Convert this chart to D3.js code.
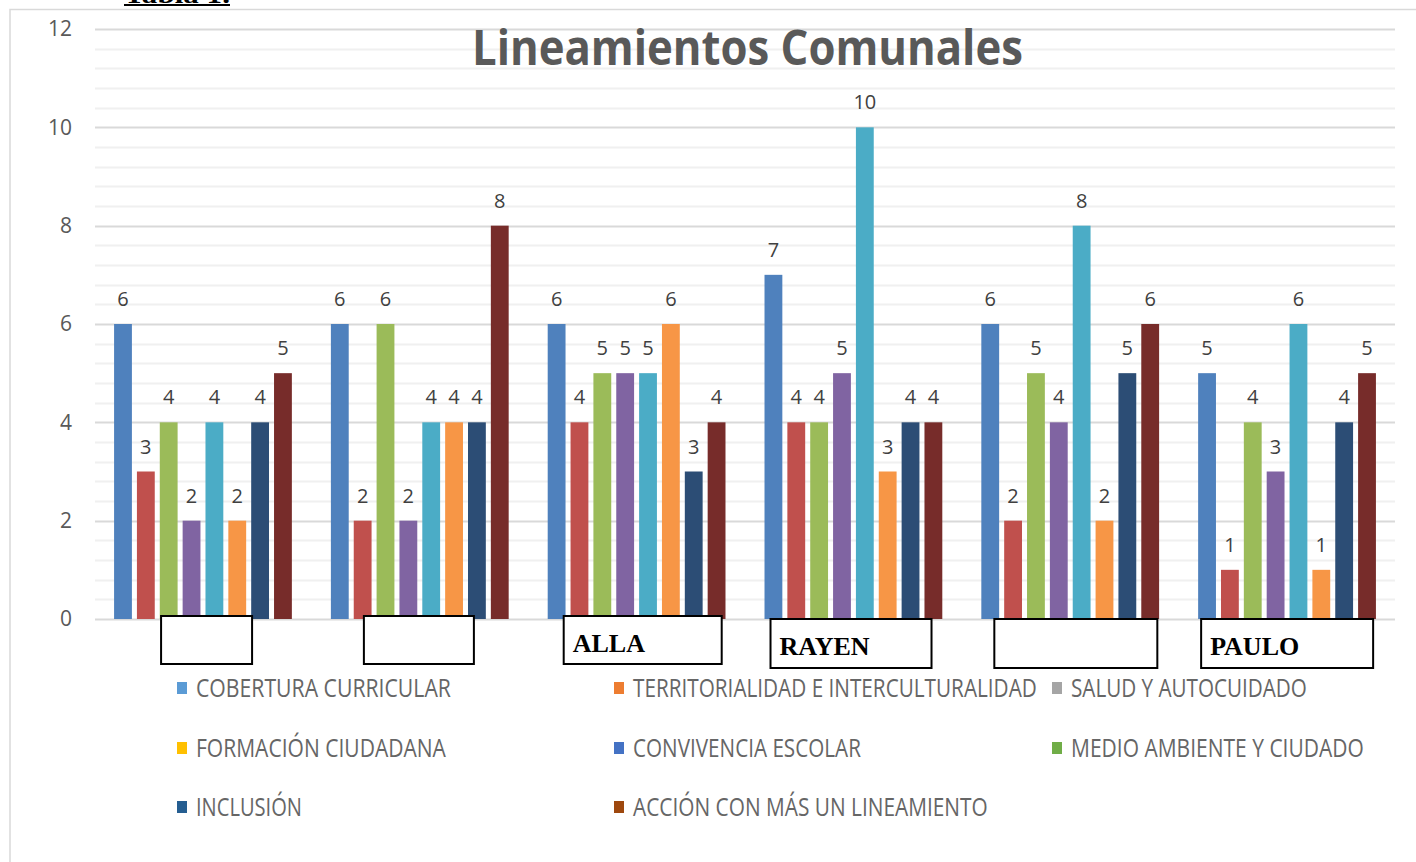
<!DOCTYPE html>
<html>
<head>
<meta charset="utf-8">
<script src="https://cdn.jsdelivr.net/npm/d3@7"></script>
<style>
  body { margin: 0; background: #fff; }
  svg { display: block; }
</style>
</head>
<body>
<div id="viz"></div>
<script>
// datos
var categories = ["c1", "c2", "ALLA", "RAYEN", "c5", "PAULO"];
var catLabels = ["", "", "ALLA", "RAYEN", "", "PAULO"];
var series = ["s1", "s2", "s3", "s4", "s5", "s6", "s7", "s8"];
var values = [
  [6, 3, 4, 2, 4, 2, 4, 5],
  [6, 2, 6, 2, 4, 4, 4, 8],
  [6, 4, 5, 5, 5, 6, 3, 4],
  [7, 4, 4, 5, 10, 3, 4, 4],
  [6, 2, 5, 4, 8, 2, 5, 6],
  [5, 1, 4, 3, 6, 1, 4, 5]
];
var barColors = ["#4F81BD", "#C0504D", "#9BBB59", "#8064A2", "#4BACC6", "#F79646", "#2C4D75", "#772C2A"];
var yTicks = [0, 2, 4, 6, 8, 10, 12];

var legendLabels = [
  "COBERTURA  CURRICULAR", "TERRITORIALIDAD E INTERCULTURALIDAD", "SALUD Y AUTOCUIDADO",
  "FORMACIÓN CIUDADANA", "CONVIVENCIA ESCOLAR", "MEDIO AMBIENTE Y CIUDADO",
  "INCLUSIÓN", "ACCIÓN CON MÁS UN LINEAMIENTO"
];
var legendColors = ["#5B9BD5", "#ED7D31", "#A5A5A5", "#FFC000", "#4472C4", "#70AD47", "#255E91", "#9E480E"];

// cajas de texto pegadas encima (layout)
var boxLayout = [
  {dx: 47, dy: -3, w: 91, h: 48},
  {dx: 33, dy: -3, w: 110, h: 48},
  {dx: 16, dy: -3, w: 158, h: 48},
  {dx: 6, dy: 0, w: 161, h: 49},
  {dx: 13, dy: 0, w: 163, h: 49},
  {dx: 3, dy: 0, w: 172, h: 49}
];
var legendPos = [
  {x: 177, y: 688, w: 255}, {x: 614, y: 688, w: 404}, {x: 1052, y: 688, w: 236},
  {x: 177, y: 748, w: 250}, {x: 614, y: 748, w: 228}, {x: 1052, y: 748, w: 293},
  {x: 177, y: 807, w: 106}, {x: 614, y: 807, w: 355}
];

var W = 1416, H = 862;
var svg = d3.select("#viz").append("svg")
  .attr("width", W).attr("height", H);

// ajusta el ancho de un texto escalandolo en x
function fitWidth(sel, target) {
  sel.each(function (d, i) {
    var t = d3.select(this);
    var w = typeof target === "function" ? target(d, i) : target;
    var nat = this.getComputedTextLength();
    var x = +t.attr("x"), yy = +t.attr("y");
    t.attr("transform", "translate(" + x + "," + yy + ") scale(" + (w / nat) + ",1)")
      .attr("x", 0).attr("y", 0);
  });
}

// marco
svg.append("path")
  .attr("d", "M10," + H + "V9.5H" + W)
  .attr("fill", "none")
  .attr("stroke", "#d9d9d9")
  .attr("stroke-width", 1.5);

// "Tabla 1." cortado arriba
svg.append("text")
  .attr("x", 124).attr("y", 3)
  .attr("font-family", "Liberation Serif")
  .attr("font-weight", "bold")
  .attr("font-size", 26)
  .text("Tabla 1.")
  .call(fitWidth, 106);
svg.append("line")
  .attr("x1", 124).attr("x2", 230).attr("y1", 5).attr("y2", 5)
  .attr("stroke", "#000").attr("stroke-width", 2);

var y = d3.scaleLinear().domain([0, 12]).range([619, 29]);
var x0 = d3.scaleBand().domain(categories).range([95, 1395])
  .paddingInner(0.18).paddingOuter(0.088);
var x1 = d3.scaleBand().domain(series).range([0, x0.bandwidth()])
  .paddingInner(0.22);

// grilla menor
svg.append("g").selectAll("line")
  .data(d3.range(0, 12.01, 0.4).filter(function (d) { return Math.abs(d / 2 - Math.round(d / 2)) > 0.01; }))
  .enter().append("line")
  .attr("x1", 95).attr("x2", 1395)
  .attr("y1", function (d) { return Math.round(y(d)) + 0.5; })
  .attr("y2", function (d) { return Math.round(y(d)) + 0.5; })
  .attr("stroke", "#f0f0f0").attr("stroke-width", 2);

// grilla mayor
svg.append("g").selectAll("line")
  .data(yTicks)
  .enter().append("line")
  .attr("x1", 95).attr("x2", 1395)
  .attr("y1", function (d) { return Math.round(y(d)) + 0.5; })
  .attr("y2", function (d) { return Math.round(y(d)) + 0.5; })
  .attr("stroke", "#d9d9d9").attr("stroke-width", 2);

// eje y
var yAxis = svg.append("g")
  .attr("transform", "translate(80,0)")
  .call(d3.axisLeft(y).tickValues(yTicks).tickSize(0).tickPadding(8));
yAxis.select(".domain").remove();
yAxis.selectAll("text")
  .attr("font-family", "Open Sans")
  .attr("font-size", 21)
  .attr("fill", "#595959");

// titulo
svg.append("text")
  .attr("x", 472).attr("y", 65)
  .attr("font-family", "Open Sans")
  .attr("font-weight", "bold")
  .attr("font-size", 49)
  .attr("fill", "#595959")
  .text("Lineamientos Comunales")
  .call(fitWidth, 551);

// barras
var groups = svg.append("g").selectAll("g")
  .data(values)
  .enter().append("g")
  .attr("transform", function (d, i) { return "translate(" + x0(categories[i]) + ",0)"; });

groups.selectAll("rect")
  .data(function (d) { return d; })
  .enter().append("rect")
  .attr("x", function (d, j) { return x1(series[j]); })
  .attr("y", function (d) { return y(d); })
  .attr("width", x1.bandwidth())
  .attr("height", function (d) { return y(0) - y(d); })
  .attr("fill", function (d, j) { return barColors[j]; });

groups.selectAll("text")
  .data(function (d) { return d; })
  .enter().append("text")
  .attr("x", function (d, j) { return x1(series[j]) + x1.bandwidth() / 2; })
  .attr("y", function (d) { return y(d) - 18; })
  .attr("text-anchor", "middle")
  .attr("font-family", "Open Sans")
  .attr("font-size", 20)
  .attr("fill", "#404040")
  .text(function (d) { return d; });

// cajas con nombres
var boxes = svg.append("g").selectAll("g")
  .data(categories)
  .enter().append("g")
  .attr("transform", function (d, i) {
    return "translate(" + (x0(d) + boxLayout[i].dx) + "," + (y(0) + boxLayout[i].dy) + ")";
  });
boxes.append("rect")
  .attr("width", function (d, i) { return boxLayout[i].w; })
  .attr("height", function (d, i) { return boxLayout[i].h; })
  .attr("fill", "#fff")
  .attr("stroke", "#000")
  .attr("stroke-width", 2);
boxes.append("text")
  .attr("x", 9).attr("y", 36)
  .attr("font-family", "Liberation Serif")
  .attr("font-weight", "bold")
  .attr("font-size", 26)
  .attr("fill", "#000")
  .text(function (d, i) { return catLabels[i]; });

// leyenda
var leg = svg.append("g").selectAll("g")
  .data(legendLabels)
  .enter().append("g")
  .attr("transform", function (d, i) { return "translate(" + legendPos[i].x + "," + legendPos[i].y + ")"; });
leg.append("rect")
  .attr("x", 0).attr("y", -6).attr("width", 10).attr("height", 12)
  .attr("fill", function (d, i) { return legendColors[i]; });
leg.append("text")
  .attr("x", 19).attr("y", 9)
  .attr("font-family", "Open Sans")
  .attr("font-size", 26)
  .attr("fill", "#666")
  .text(function (d) { return d; })
  .call(fitWidth, function (d, i) { return legendPos[i].w; });
</script>
</body>
</html>
